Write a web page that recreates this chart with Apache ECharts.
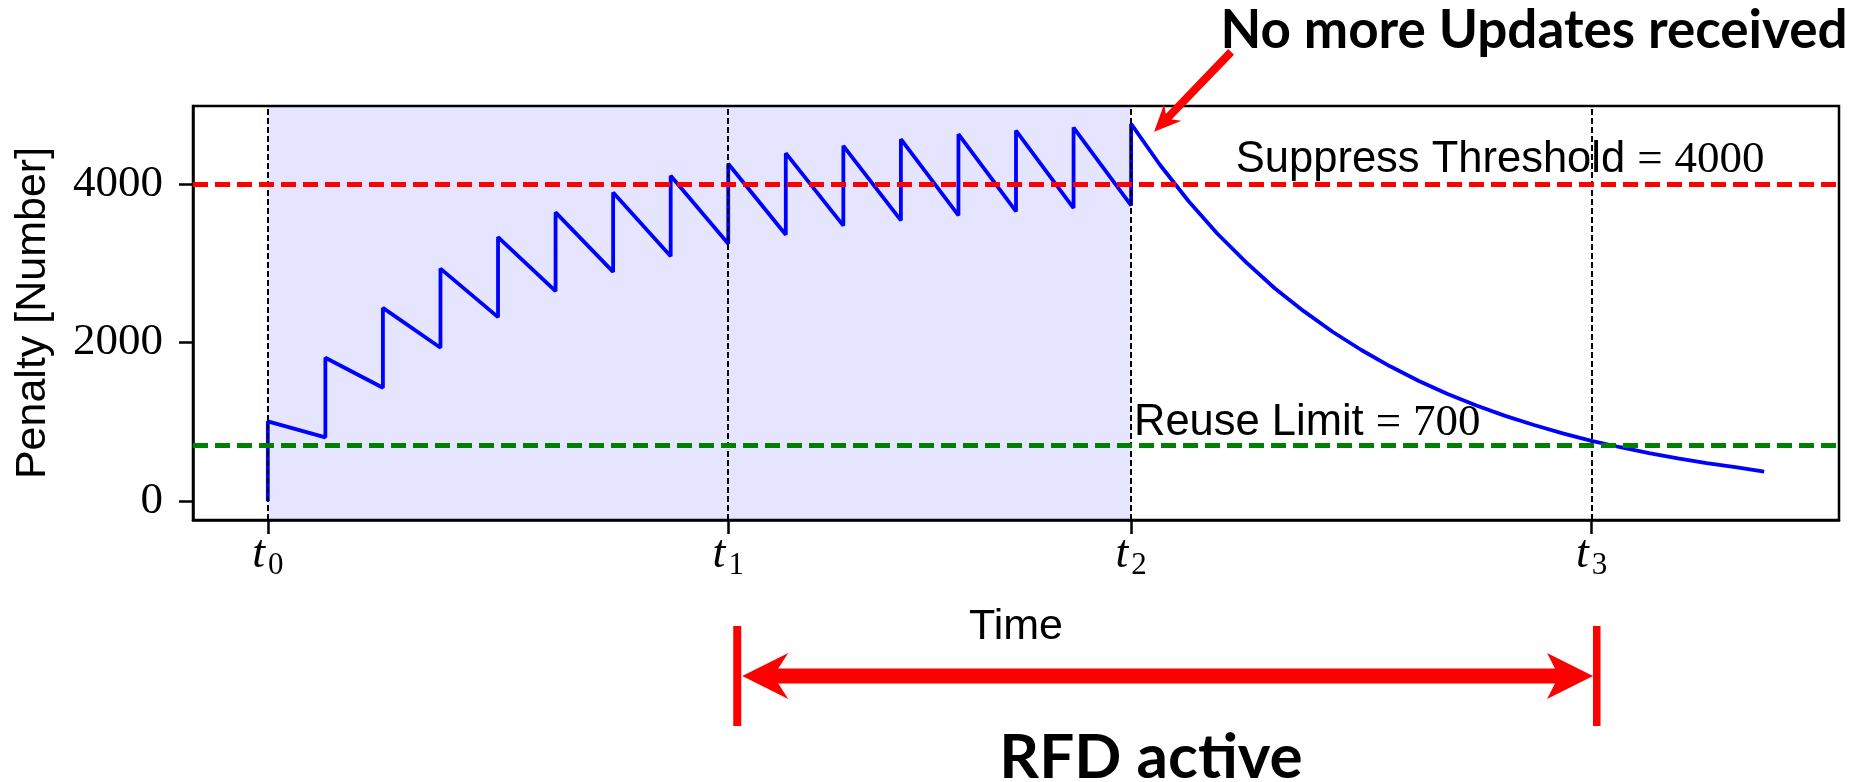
<!DOCTYPE html>
<html><head><meta charset="utf-8">
<script src="https://cdn.jsdelivr.net/npm/echarts@6/dist/echarts.min.js"></script>
<style>html,body{margin:0;padding:0;background:#fff;} #c{width:1874px;height:782px;}</style>
</head><body><div id="c"></div>
<script>
// ---- data ----
const updateTimes = [0,1,2,3,4,5,6,7,8,9,10,11,12,13,14,15];
const peakValues = [1005,1807,2436,2931,3329,3640,3891,4101,4252,4386,4478,4562,4625,4670,4708,4755];
const troughValues = [805,1430,1933,2319,2646,2889,3086,3245,3358,3472,3538,3601,3652,3694,3727]; // just before updates at t=1..15
const decayTimes = [15,15.5,16,16.5,17,17.5,18,18.5,19,19.5,20,20.5,21,21.5,22,22.5,23,23.5,24,24.5,25,25.5,26];
const decayValues = [4755,4240,3780,3370,3010,2680,2395,2135,1905,1700,1515,1350,1205,1075,960,855,760,680,605,540,480,430,372];
const tickTimes = [0,8,15,23];
const tickSubscripts = ['0','1','2','3'];
const yTicks = [0,2000,4000];
const suppressThreshold = 4000;
const reuseLimit = 700;
const shadedRange = [0,15];
const suppressLabel = 'Suppress Threshold';
const reuseLabel = 'Reuse Limit';

// ---- build series data ----
const sawData = [[updateTimes[0], 0], [updateTimes[0], peakValues[0]]];
for (let i = 1; i < updateTimes.length; i++) {
  sawData.push([updateTimes[i], troughValues[i-1]]);
  sawData.push([updateTimes[i], peakValues[i]]);
}
const decayData = decayTimes.map((t, i) => [t, decayValues[i]]);

const chart = echarts.init(document.getElementById('c'), null, {renderer:'canvas'});
const blackDash = {color:'#000', type:[6,3], width:2};
chart.setOption({
  animation:false,
  backgroundColor:'#fff',
  grid:{left:193, top:106, width:1646, height:414, show:true, borderColor:'#000', borderWidth:2.5, backgroundColor:'transparent'},
  xAxis:{
    type:'value', min:-1.3, max:27.3,
    axisLine:{show:true, onZero:false, lineStyle:{color:'#000', width:2.5}},
    axisTick:{show:true, customValues:tickTimes, length:14, lineStyle:{color:'#000', width:2.5}},
    axisLabel:{
      customValues:tickTimes, margin:8, color:'#000',
      formatter:function(v){ const i = tickTimes.indexOf(v); return '{t|t}{s|' + tickSubscripts[i] + '}'; },
      rich:{
        t:{fontFamily:'Liberation Serif', fontStyle:'italic', fontSize:46, color:'#000'},
        s:{fontFamily:'Liberation Serif', fontSize:31, color:'#000', padding:[22,0,0,3]}
      }
    },
    splitLine:{show:false},
    name:'Time', nameLocation:'middle', nameGap:86,
    nameTextStyle:{fontFamily:'Liberation Sans', fontSize:43, color:'#000'}
  },
  yAxis:{
    type:'value', min:-237, max:4980,
    axisLine:{show:true, onZero:false, lineStyle:{color:'#000', width:2.5}},
    axisTick:{show:true, customValues:yTicks, length:14, lineStyle:{color:'#000', width:2.5}},
    axisLabel:{customValues:yTicks, margin:30, fontFamily:'Liberation Serif', fontSize:45, color:'#000',
      formatter:function(v){ return String(v); }},
    splitLine:{show:false},
    name:'Penalty [Number]', nameLocation:'middle', nameRotate:90, nameGap:138,
    nameTextStyle:{fontFamily:'Liberation Sans', fontSize:43, color:'#000'}
  },
  series:[
    {
      type:'line', data:sawData, showSymbol:false, symbol:'none',
      lineStyle:{color:'#0000ff', width:3.8}, z:3,
      markArea:{silent:true, itemStyle:{color:'rgba(0,0,255,0.1)'}, data:[[{xAxis:shadedRange[0]},{xAxis:shadedRange[1]}]]},
      markLine:{
        silent:true, symbol:['none','none'], label:{show:false}, animation:false,
        lineStyle:{width:5},
        data:[
          {xAxis:tickTimes[0], lineStyle:blackDash},
          {xAxis:tickTimes[1], lineStyle:blackDash},
          {xAxis:tickTimes[2], lineStyle:blackDash},
          {xAxis:tickTimes[3], lineStyle:blackDash},
          {yAxis:suppressThreshold, lineStyle:{color:'#ff0000', type:[15,7], width:5}},
          {yAxis:reuseLimit, lineStyle:{color:'#008000', type:[15,7], width:5}}
        ]
      }
    },
    {
      type:'line', data:decayData, showSymbol:false, symbol:'none',
      lineStyle:{color:'#0000ff', width:3.8}, z:3
    }
  ]
});

// ---- annotations tied to data coordinates ----
const P = (x, y) => chart.convertToPixel({gridIndex:0}, [x, y]);
const mctx = document.createElement('canvas').getContext('2d');
function textW(str, font){ mctx.font = font; return mctx.measureText(str).width; }
function arrowHead(tail, tip, headLen, halfW, notch, shaftHalf) {
  const dx = tip[0]-tail[0], dy = tip[1]-tail[1], L = Math.hypot(dx, dy);
  const d = [dx/L, dy/L], n = [-d[1], d[0]];
  const base = [tip[0]-d[0]*headLen, tip[1]-d[1]*headLen];
  const nb = [tip[0]-d[0]*(headLen-notch), tip[1]-d[1]*(headLen-notch)];
  return [
    [tail[0]+n[0]*shaftHalf, tail[1]+n[1]*shaftHalf],
    [nb[0]+n[0]*shaftHalf, nb[1]+n[1]*shaftHalf],
    [base[0]+n[0]*halfW, base[1]+n[1]*halfW],
    tip,
    [base[0]-n[0]*halfW, base[1]-n[1]*halfW],
    [nb[0]-n[0]*shaftHalf, nb[1]-n[1]*shaftHalf],
    [tail[0]-n[0]*shaftHalf, tail[1]-n[1]*shaftHalf]
  ];
}
const peak = P(updateTimes[updateTimes.length-1], peakValues[peakValues.length-1]);
const tip1 = [peak[0]+23, peak[1]+8], tail1 = [peak[0]+100, peak[1]-72];
const t1 = P(tickTimes[1], 0), t3 = P(tickTimes[3], 0);
const ay = 676;
const lx = t1[0]+14, rx = t3[0]+1.5;
const dbl = [
  [lx, ay], [lx+46, ay-23], [lx+36, ay-7.5], [rx-38, ay-7.5], [rx-46, ay-23], [rx, ay],
  [rx-46, ay+23], [rx-38, ay+7.5], [lx+36, ay+7.5], [lx+46, ay+23]
];
const sup = P(16.82, 4300), reu = P(15.05, 985);
const sansF = '43.5px "Liberation Sans"', serifF = '45px "Liberation Serif"';
function labelPair(pos, words, num) {
  const w1 = textW(words, sansF), gap = 12, wEq = textW('=', serifF);
  return [
    {type:'text', silent:true, x:pos[0], y:pos[1], style:{text:words, font:sansF, fill:'#000', align:'left', verticalAlign:'middle'}},
    {type:'text', silent:true, x:pos[0]+w1+gap, y:pos[1], style:{text:'=', font:serifF, fill:'#000', align:'left', verticalAlign:'middle'}},
    {type:'text', silent:true, x:pos[0]+w1+gap+wEq+gap, y:pos[1], style:{text:String(num), font:serifF, fill:'#000', align:'left', verticalAlign:'middle'}}
  ];
}
chart.setOption({graphic:[].concat(
  labelPair(sup, suppressLabel, suppressThreshold),
  labelPair(reu, reuseLabel, reuseLimit),
  [
  {type:'polygon', silent:true, shape:{points:arrowHead(tail1, tip1, 27, 12, 6, 4)}, style:{fill:'#ff0000'}},
  {type:'polygon', silent:true, shape:{points:dbl}, style:{fill:'#ff0000'}},
  {type:'rect', silent:true, shape:{x:t1[0]+5, y:626, width:8, height:100}, style:{fill:'#ff0000'}},
  {type:'rect', silent:true, shape:{x:t3[0]+1.5, y:626, width:7.5, height:100}, style:{fill:'#ff0000'}},
  {type:'text', silent:true, x:1534, y:31, style:{text:'No more Updates received', font:'bold 53px Lato', fill:'#000', align:'center', verticalAlign:'middle'}},
  {type:'text', silent:true, x:1151, y:758, style:{text:'RFD active', font:'bold 62px Lato', fill:'#000', align:'center', verticalAlign:'middle'}}
  ]
)});
</script></body></html>
